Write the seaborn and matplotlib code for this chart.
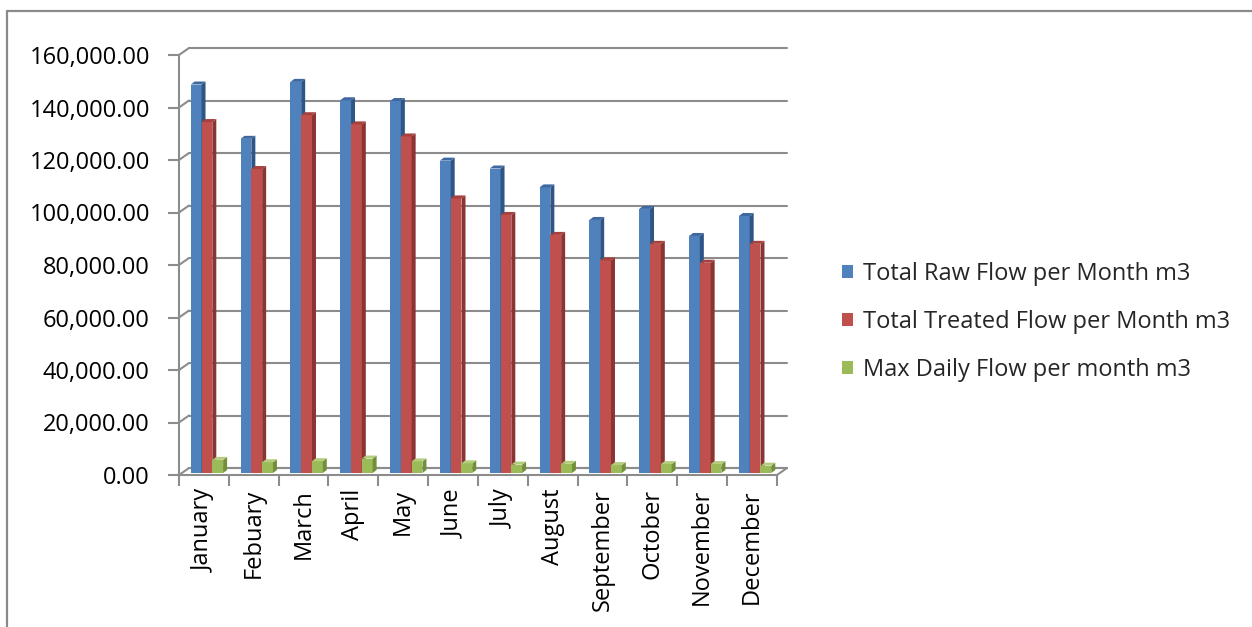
import numpy as np
import pandas as pd
import matplotlib
matplotlib.use("Agg")
import matplotlib.pyplot as plt
import seaborn as sns
from matplotlib.transforms import Affine2D, IdentityTransform
from matplotlib.patches import Polygon, Patch
from matplotlib.lines import Line2D
from matplotlib.ticker import FuncFormatter, FixedLocator

months = ["January", "Febuary", "March", "April", "May", "June", "July",
          "August", "September", "October", "November", "December"]
raw_flow = [148000, 127300, 149000, 142000, 141700, 119000,
            116000, 108800, 96400, 100600, 90300, 97900]
treated_flow = [133700, 115800, 136300, 132800, 128200, 104600,
                98300, 90700, 81000, 87300, 80100, 87300]
max_daily_flow = [5000, 4100, 4500, 5500, 4400, 3700,
                  3200, 3500, 3000, 3400, 3400, 2800]
series_names = ["Total Raw Flow per Month m3",
                "Total Treated Flow per Month m3",
                "Max Daily Flow per month m3"]
y_ticks = list(range(0, 160001, 20000))

front_colors = ["#4F81BD", "#C0504D", "#9BBB59"]
side_colors = ["#2F5587", "#8A3533", "#72903A"]
top_colors = ["#3E69A0", "#A8413E", "#B3CD7C"]
grid_color = "#8C8C8C"

df = pd.DataFrame({
    "Month": months * 3,
    "Flow": raw_flow + treated_flow + max_daily_flow,
    "Series": [series_names[0]] * 12 + [series_names[1]] * 12 + [series_names[2]] * 12,
})

sns.set_theme(style="white")
plt.rcParams["font.family"] = ["Open Sans", "DejaVu Sans"]
FS = 17

W, H = 1252, 627
fig = plt.figure(figsize=(W / 100, H / 100), dpi=100)
fig.patch.set_facecolor("white")

# outer chart frame (top and left edges visible)
fig.add_artist(Line2D([7 / W, 7 / W], [0, 1 - 11 / H], transform=fig.transFigure,
                      color="#8A8A8A", lw=1.6))
fig.add_artist(Line2D([7 / W, 1], [1 - 11 / H, 1 - 11 / H], transform=fig.transFigure,
                      color="#8A8A8A", lw=1.6))

left, right, bottom, top = 179, 777, 475, 55
ax = fig.add_axes([left / W, 1 - bottom / H, (right - left) / W, (bottom - top) / H])

sns.barplot(data=df, x="Month", y="Flow", hue="Series", order=months,
            hue_order=series_names, palette=front_colors, saturation=1,
            width=0.65, ax=ax, legend=False, linewidth=0)

ax.set_xlim(-0.5, 11.5)
ax.set_ylim(0, 160000)
ax.set_xlabel("")
ax.set_ylabel("")

# depth of the back wall (pixels)
DX, DY = 10, 7
back = ax.transData + Affine2D().translate(DX, DY)

# back-wall gridlines and their connectors to the value axis
for v in y_ticks:
    ax.plot([-0.5, 11.5], [v, v], transform=back, color=grid_color, lw=1.5,
            zorder=0.5, clip_on=False)
    px, py = ax.transData.transform((-0.5, v))
    ax.add_line(Line2D([px, px + DX], [py, py + DY], transform=IdentityTransform(),
                       color=grid_color, lw=1.5, zorder=0.5, clip_on=False))

# floor: back edge and right-hand connector
ax.plot([-0.5, 11.5], [0, 0], transform=back, color=grid_color, lw=1.5,
        zorder=0.6, clip_on=False)
px, py = ax.transData.transform((11.5, 0))
ax.add_line(Line2D([px, px + DX], [py, py + DY], transform=IdentityTransform(),
                   color=grid_color, lw=1.5, zorder=0.6, clip_on=False))

# give the columns a 3-D look: shift into mid-depth and add side/top faces
BX, BY = 3, 2
SD, SE = 4, 3
bar_tr = ax.transData + Affine2D().translate(BX, BY)
bars = [p for p in ax.patches]
for i, p in enumerate(bars):
    s = i // 12
    z = 2 + s
    p.set_transform(bar_tr)
    p.set_zorder(z)
    p.set_clip_on(False)
    (x0, y0), (x1, y1) = bar_tr.transform(
        [(p.get_x(), p.get_y()), (p.get_x() + p.get_width(), p.get_y() + p.get_height())])
    side = Polygon([(x1, y0), (x1, y1), (x1 + SD, y1 + SE), (x1 + SD, y0 + SE)],
                   closed=True, transform=IdentityTransform(), facecolor=side_colors[s],
                   edgecolor="none", zorder=z, clip_on=False)
    topf = Polygon([(x0, y1), (x1, y1), (x1 + SD, y1 + SE), (x0 + SD, y1 + SE)],
                   closed=True, transform=IdentityTransform(), facecolor=top_colors[s],
                   edgecolor="none", zorder=z, clip_on=False)
    ax.add_patch(side)
    ax.add_patch(topf)

# axes styling
for sp in ["top", "right"]:
    ax.spines[sp].set_visible(False)
for sp in ["left", "bottom"]:
    ax.spines[sp].set_color(grid_color)
    ax.spines[sp].set_linewidth(1.5)
    ax.spines[sp].set_zorder(1)
ax.set_facecolor("none")

ax.set_yticks(y_ticks)
ax.yaxis.set_major_formatter(FuncFormatter(lambda v, _: f"{v:,.2f}"))
ax.tick_params(axis="y", which="major", left=True, length=8, width=1.5,
               color=grid_color, pad=13, labelsize=FS, labelcolor="black")

ax.set_xticks(range(12))
ax.set_xticklabels(months, rotation=90, fontsize=FS, color="black")
ax.xaxis.set_minor_locator(FixedLocator(np.arange(-0.5, 12, 1)))
ax.tick_params(axis="x", which="major", bottom=True, length=0, pad=10)
ax.tick_params(axis="x", which="minor", bottom=True, length=8, width=1.5,
               color=grid_color)

handles = [Patch(facecolor=c, edgecolor="none") for c in front_colors]
fig.legend(handles, series_names, loc="center left",
           bbox_to_anchor=(842 / W, 1 - 322 / H), frameon=False, fontsize=FS,
           handlelength=0.45, handleheight=0.45, handletextpad=0.42,
           labelspacing=1.02, borderpad=0, borderaxespad=0)

fig.savefig("out.png", dpi=100, facecolor="white")
